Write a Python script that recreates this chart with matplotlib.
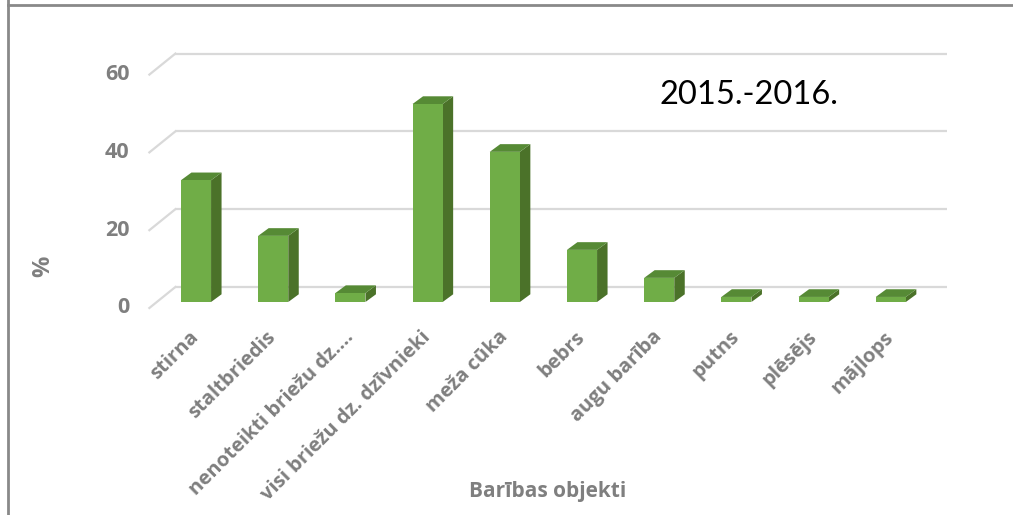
import matplotlib
matplotlib.use("Agg")
import matplotlib.pyplot as plt
from matplotlib.patches import Polygon, Rectangle
from matplotlib.lines import Line2D

categories = ["stirna", "staltbriedis", "nenoteikti briežu dz.…", "visi briežu dz. dzīvnieki",
              "meža cūka", "bebrs", "augu barība", "putns", "plēsējs", "mājlops"]
values = [31.3, 17.0, 2.3, 50.9, 38.6, 13.4, 6.2, 1.3, 1.3, 1.3]
y_ticks = [0, 20, 40, 60]
title_text = "2015.-2016."
x_title = "Barības objekti"
y_title = "%"

plt.rcParams['font.family'] = ['Open Sans', 'DejaVu Sans']

FRONT = "#70AD47"
SIDE = "#4B7229"
TOP = "#568A35"
GRID = "#D9D9D9"
TXT = "#7F7F7F"

# fake 3d: offsets in data units (x in categories, y in %)
bar_w = 0.39
dx, dy = 0.136, 1.98        # bar depth
wall_dx, wall_dy = 0.233, 3.86   # back wall offset
fl_dx, fl_dy = -0.104, -1.54     # front floor edge offset

fig = plt.figure(figsize=(10.13, 5.15), dpi=100)
ax = fig.add_axes([0, 0, 1, 1])
ax.set_xlim(-196 / 77.2, (1013 - 196) / 77.2)
ax.set_ylim((302 - 515) / 3.89, 302 / 3.89)
for s in ['top', 'right', 'left']:
    ax.spines[s].set_visible(False)
ax.set_yticks([])

n = len(categories)
x_left = -0.5
x_right = n - 0.5
for v in y_ticks:
    ax.plot([x_left + wall_dx, x_right + wall_dx], [v + wall_dy, v + wall_dy],
            color=GRID, lw=1.6, zorder=1, solid_capstyle='butt')
    ax.plot([x_left + fl_dx, x_left + wall_dx], [v + fl_dy, v + wall_dy],
            color=GRID, lw=1.6, zorder=1)
    ax.text(x_left + fl_dx - 0.26, v + fl_dy, str(v), ha='right', va='center',
            fontsize=15.5, fontweight='bold', color=TXT)

for i, v in enumerate(values):
    x0, x1 = i - bar_w / 2, i + bar_w / 2
    ax.add_patch(Polygon([(x1, 0), (x1 + dx, dy), (x1 + dx, v + dy), (x1, v)],
                         closed=True, fc=SIDE, ec='none', zorder=3))
    ax.add_patch(Polygon([(x0, v), (x1, v), (x1 + dx, v + dy), (x0 + dx, v + dy)],
                         closed=True, fc=TOP, ec='none', zorder=3))
    ax.add_patch(Rectangle((x0, 0), bar_w, v, fc=FRONT, ec='none', zorder=4))

ax.spines['bottom'].set_position(('data', -8.3))
ax.spines['bottom'].set_visible(False)
ax.set_xticks(range(n))
ax.set_xticklabels(categories)
ax.tick_params(axis='x', length=0, pad=0, labelsize=14.5, labelcolor=TXT)
for lab in ax.get_xticklabels():
    lab.set_rotation(45)
    lab.set_ha('right')
    lab.set_va('center')
    lab.set_rotation_mode('anchor')
    lab.set_fontweight('bold')

ax.text((548 - 196) / 77.2, (302 - 492) / 3.89, x_title, ha='center', va='center',
        fontsize=15, fontweight='bold', color=TXT)
ax.text((43 - 196) / 77.2, (302 - 266) / 3.89, y_title, ha='center', va='center',
        rotation=90, fontsize=17, fontweight='bold', color=TXT)
ax.text((749 - 196) / 77.2, (302 - 95) / 3.89, title_text, ha='center', va='center',
        fontsize=23.5, color='black', family=['Lato', 'DejaVu Sans'])

# chart frame
fig.add_artist(Line2D([8 / 1013, 1], [1 - 4.5 / 515, 1 - 4.5 / 515], color="#898989", lw=2))
fig.add_artist(Line2D([8 / 1013, 8 / 1013], [0, 1], color="#898989", lw=2))

fig.savefig("out.png", dpi=100)
